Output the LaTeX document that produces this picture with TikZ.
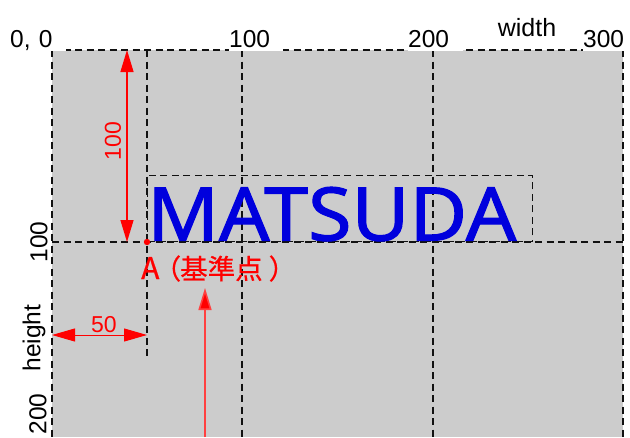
\documentclass[tikz,border=0pt]{standalone}
\usepackage{fontspec}
\setmainfont{Liberation Sans}
\newfontfamily\cjkfont[RawFeature=+palt, FakeBold=0.6]{Noto Sans CJK JP}
\newfontfamily\logofont[FakeBold=1.4]{Noto Sans}
\usetikzlibrary{arrows.meta}
\definecolor{canvasgray}{HTML}{CCCCCC}
\definecolor{guideline}{HTML}{111111}
\definecolor{mred}{HTML}{FF0000}
\definecolor{mblue}{HTML}{0000DD}
\tikzset{
  guide/.style={draw=guideline, line width=1.1pt, dash pattern=on 7pt off 4.5pt},
  toplabel/.style={fill=white, inner sep=0pt, minimum height=21pt, anchor=south west, text height=17pt, text depth=3pt, font=\fontsize{24.5}{26}\selectfont, align=left},
  sidelabel/.style={rotate=90, inner sep=0pt, font=\fontsize{24.5}{26}\selectfont},
  redarrow/.style={draw=mred, line width=1.3pt, -{Triangle[length=22pt,width=13pt]}},
  redlabel/.style={text=mred, inner sep=0pt}
}
\begin{document}
\begin{tikzpicture}[x=1pt,y=-1pt]
\useasboundingbox (0,0) rectangle (630,437);
% canvas
\fill[canvasgray] (52,50) rectangle (623,437);
% coordinates
\coordinate (c00) at (52,50);
\coordinate (c300t) at (623,50);
\coordinate (c0b) at (52,437);
\coordinate (c100t) at (242,50);
\coordinate (c100b) at (242,437);
\coordinate (c200t) at (433,50);
\coordinate (c200b) at (433,437);
\coordinate (c300b) at (623,437);
\coordinate (c50t) at (147,50);
\coordinate (c50b) at (147,360);
\coordinate (h0) at (52,242);
\coordinate (h300) at (623,242);
% guide lines
\draw[guide] (c00) -- (c300t);
\draw[guide] (c00) -- (c0b);
\draw[guide] (c100t) -- (c100b);
\draw[guide] (c200t) -- (c200b);
\draw[guide] (c300t) -- (c300b);
\draw[guide] (c50t) -- (c50b);
\draw[guide] (h0) -- (h300);
% MATSUDA box
\node[guide, minimum width=385pt, minimum height=66pt, inner sep=0pt, anchor=south west] (box) at (147,242) {};
\node[text=mblue, inner sep=0pt, anchor=base west, text depth=0pt, font=\logofont\fontsize{74}{74}\selectfont, xscale=1.07] (logo) at (147,240.5) {MATSUDA};
% top labels
\node[toplabel, text width=56pt] (l00) at (10,51) {0, 0};
\node[toplabel, text width=54pt] (l100) at (229,51) {100};
\node[toplabel, text width=55pt] (l200) at (408,51) {200};
\node[toplabel, text width=41pt] (l300) at (583,51) {300};
\node[inner sep=0pt, font=\fontsize{25}{26}\selectfont] (lw) at (527,28) {width};
% side labels
\node[sidelabel] (s100) at (39,242) {100};
\node[sidelabel] (sh) at (34,338) {height};
\node[sidelabel] (s200) at (38,414) {200};
% red dimension arrow 100
\coordinate (a100mid) at (127,146);
\coordinate (a100t) at (127,50);
\coordinate (a100b) at (127,242);
\draw[redarrow] (a100mid) -- (a100t);
\draw[redarrow] (a100mid) -- (a100b);
\node[redlabel, rotate=90, font=\fontsize{23}{24}\selectfont] (r100) at (113,141) {100};
% reference point A
\fill[mred] (147,242) circle (3.2pt) coordinate (A);
\node[redlabel, anchor=base west, text height=20pt, font=\cjkfont\fontsize{27.5}{28}\selectfont] (alabel) at (141,279) {{\fontsize{30}{30}\selectfont A}\hspace{7pt}（基準点\hspace{7pt}）};
% bottom pointer arrow
\coordinate (pb) at (205,437);
\coordinate (pt) at (205,288);
\draw[redarrow, draw=mred!75!white, line width=1.6pt, -{Triangle[length=22pt,width=13pt,fill=mred]}] (pb) -- (pt);
% 50 dimension
\coordinate (d50l) at (52,335);
\coordinate (d50r) at (147,335);
\draw[draw=mred, line width=1pt, {Triangle[length=23pt,width=13pt]}-{Triangle[length=23pt,width=13pt]}] (d50l) -- (d50r);
\node[redlabel, font=\fontsize{23}{24}\selectfont] (r50) at (104,325) {50};
\end{tikzpicture}
\end{document}
